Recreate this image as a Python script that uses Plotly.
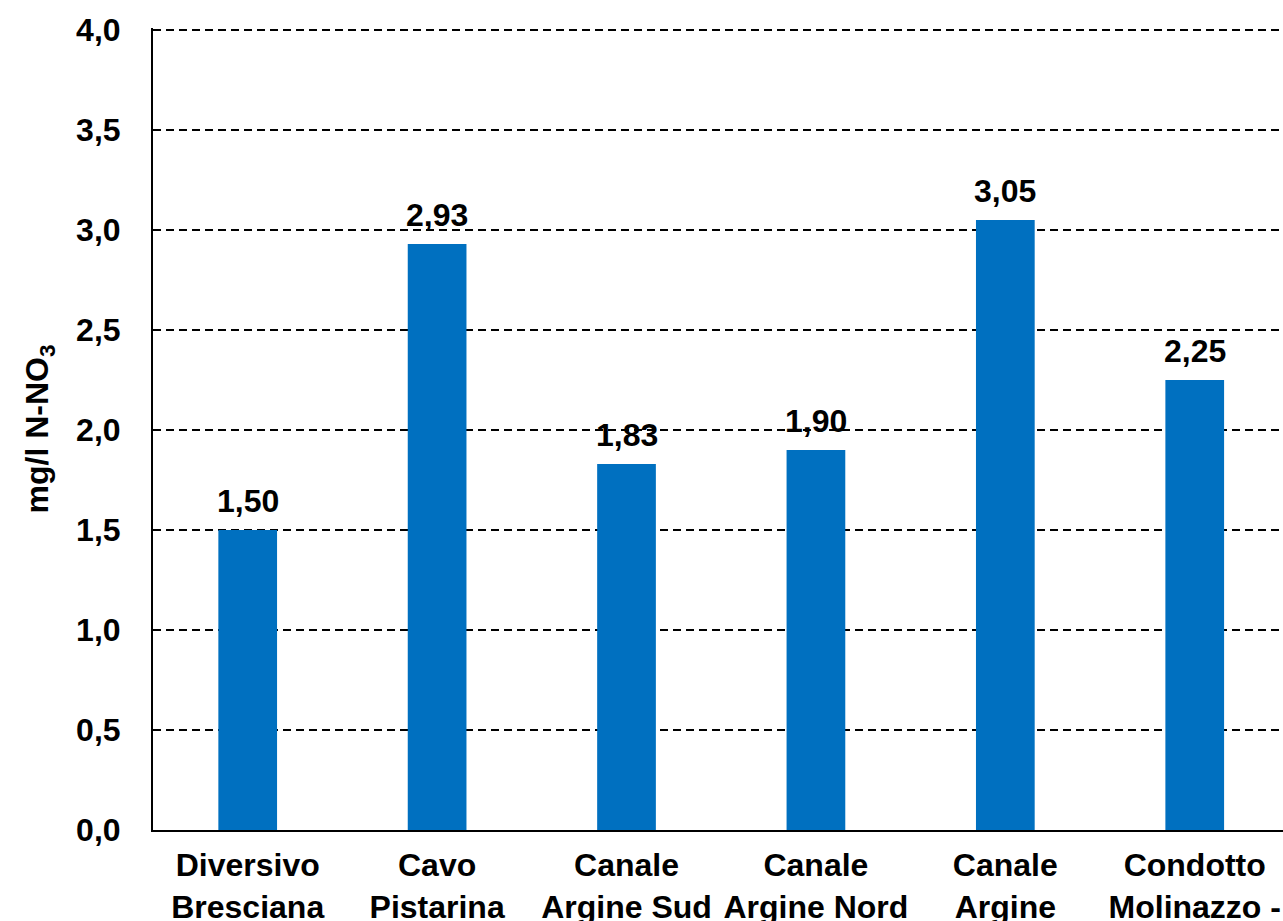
import plotly.graph_objects as go

# Nitrate nitrogen concentration per sampling site
stations = [
    "Diversivo<br>Bresciana",
    "Cavo<br>Pistarina",
    "Canale<br>Argine Sud",
    "Canale<br>Argine Nord",
    "Canale<br>Argine",
    "Condotto<br>Molinazzo -",
]
n_no3 = [1.50, 2.93, 1.83, 1.90, 3.05, 2.25]

y_ticks = [0.0, 0.5, 1.0, 1.5, 2.0, 2.5, 3.0, 3.5, 4.0]

FONT = "Liberation Sans, Arial, sans-serif"
BLUE = "#0070C0"
SIZE = 32

fig = go.Figure(
    go.Bar(
        x=stations,
        y=n_no3,
        marker=dict(color=BLUE, line=dict(width=0)),
        width=0.31,
        cliponaxis=False,
    )
)

# value labels above each bar, with decimal comma
for name, val in zip(stations, n_no3):
    fig.add_annotation(
        x=name,
        y=val,
        text=f"{val:.2f}".replace(".", ","),
        showarrow=False,
        xanchor="center",
        yanchor="bottom",
        yshift=9,
        font=dict(family=FONT, size=SIZE, color="black", weight="bold"),
    )

fig.update_layout(
    width=1283,
    height=921,
    margin=dict(l=153, r=0, t=28, b=91, autoexpand=False),
    paper_bgcolor="white",
    plot_bgcolor="white",
    separators=",.",
    showlegend=False,
    font=dict(family=FONT, color="black"),
)

fig.update_xaxes(
    range=[-0.5, 5.466],
    automargin=False,
    showline=True,
    linecolor="black",
    linewidth=2,
    ticks="",
    showgrid=False,
    tickfont=dict(family=FONT, size=SIZE, color="black", weight="bold"),
    ticklabelstandoff=6,
)

fig.update_yaxes(
    range=[0, 4.01],
    automargin=False,
    tickvals=y_ticks,
    tickformat=".1f",
    showline=True,
    linecolor="black",
    linewidth=2,
    ticks="",
    showgrid=True,
    gridcolor="black",
    gridwidth=1.8,
    griddash="8px,5px",
    zeroline=False,
    tickfont=dict(family=FONT, size=SIZE, color="black", weight="bold"),
    ticklabelstandoff=24,
    title=dict(
        text="mg/l N-NO<sub>3</sub>",
        font=dict(family=FONT, size=SIZE, color="black", weight="bold"),
        standoff=18,
    ),
)

fig.write_html("out.html")
